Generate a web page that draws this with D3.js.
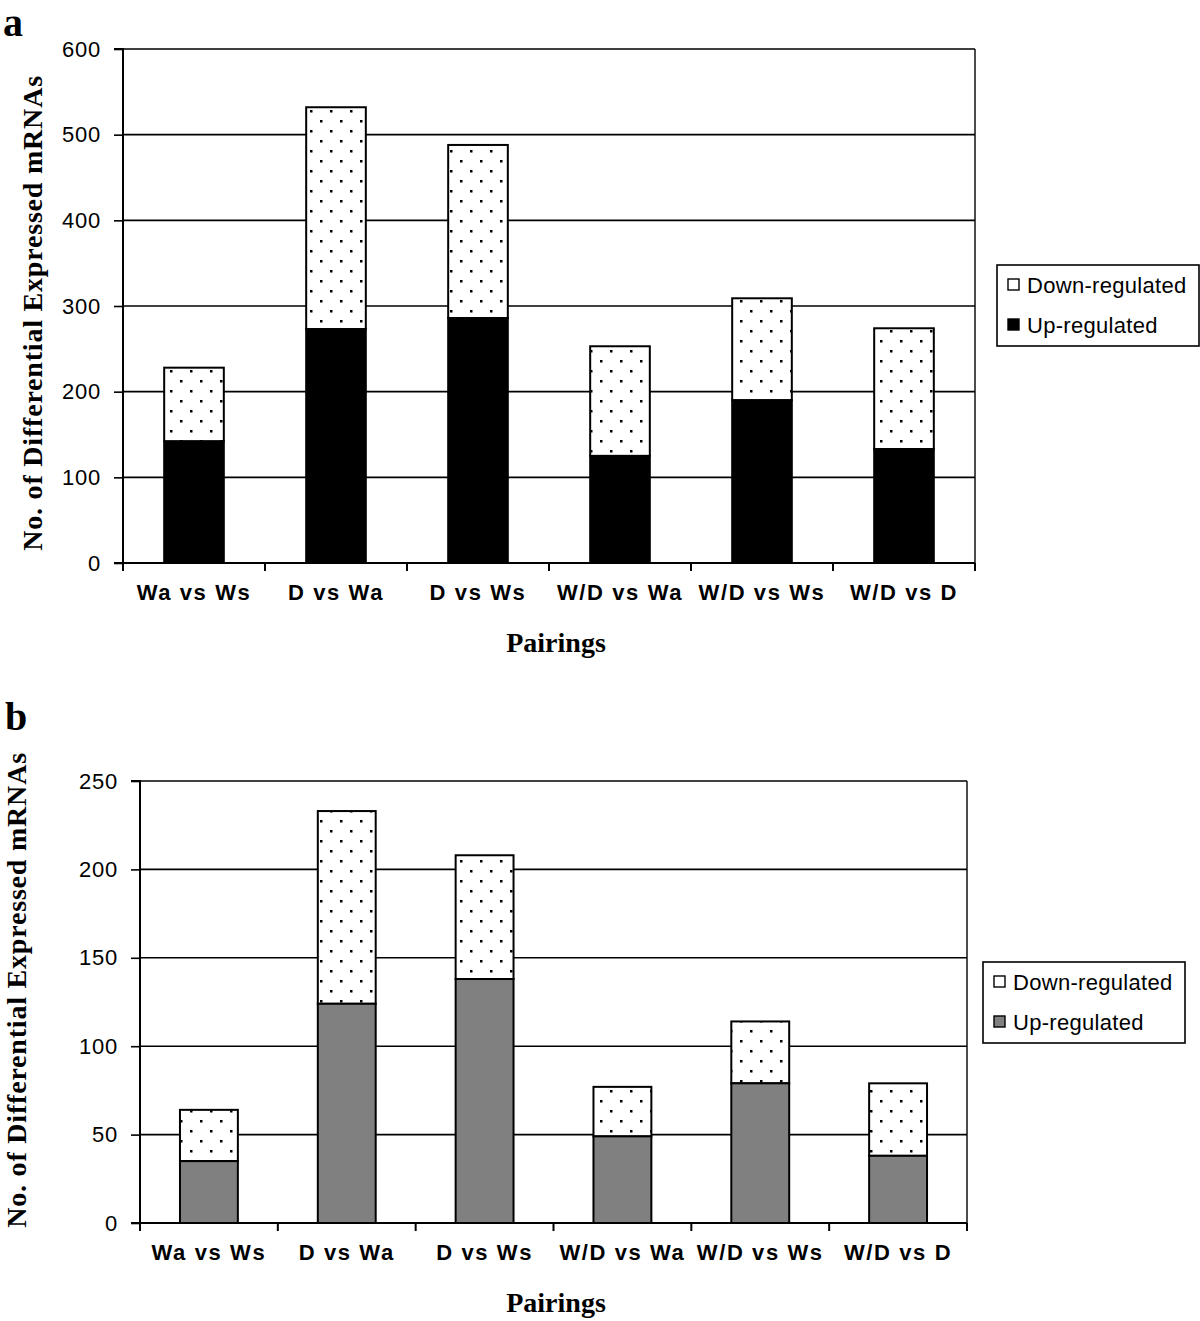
<!DOCTYPE html>
<html><head><meta charset="utf-8">
<script src="https://cdn.jsdelivr.net/npm/d3@7"></script>
<style>body{margin:0;background:#fff}</style>
</head><body>
<svg id="c" width="1200" height="1321"></svg>
<script>
const categories = ["Wa vs Ws","D vs Wa","D vs Ws","W/D vs Wa","W/D vs Ws","W/D vs D"];
const upA = [142,273,286,125,190,133];
const totalA = [228,532,488,253,309,274];
const upB = [35,124,138,49,79,38];
const totalB = [64,233,208,77,114,79];
const ticksA = [0,100,200,300,400,500,600];
const ticksB = [0,50,100,150,200,250];
const seriesNames = ["Down-regulated","Up-regulated"];

const svg = d3.select("#c");
const defs = svg.append("defs");
const pat = defs.append("pattern").attr("id","dots").attr("patternUnits","userSpaceOnUse")
  .attr("width",20).attr("height",20);
pat.append("rect").attr("width",20).attr("height",20).attr("fill","#fff");
pat.append("rect").attr("x",0).attr("y",0).attr("width",2.5).attr("height",2.5).attr("fill","#000");
pat.append("rect").attr("x",10).attr("y",10).attr("width",2.5).attr("height",2.5).attr("fill","#000");

const SANS = "Liberation Sans, Arial, Helvetica, sans-serif";
const SERIF = "Liberation Serif, Times New Roman, serif";

function panel(o){
  const g = svg.append("g");
  const x = d3.scaleBand().domain(categories).range([o.left,o.right]).paddingInner(0.58).paddingOuter(0.29);
  const xt = d3.scaleBand().domain(categories).range([o.left,o.right]);
  const y = d3.scaleLinear().domain([0,o.max]).range([o.bottom,o.top]);
  g.selectAll(".grid").data(o.ticks.slice(1)).join("line")
    .attr("x1",o.left).attr("x2",o.right).attr("y1",d=>y(d)).attr("y2",d=>y(d))
    .attr("stroke","#000").attr("stroke-width",1.6);
  g.append("line").attr("x1",o.right).attr("x2",o.right).attr("y1",o.top).attr("y2",o.bottom)
    .attr("stroke","#000").attr("stroke-width",1.4);
  categories.forEach((c,i)=>{
    g.append("rect").attr("x",x(c)).attr("width",x.bandwidth())
      .attr("y",y(o.total[i])).attr("height",y(o.up[i])-y(o.total[i]))
      .attr("fill","url(#dots)").attr("stroke","#000").attr("stroke-width",2);
    g.append("rect").attr("x",x(c)).attr("width",x.bandwidth())
      .attr("y",y(o.up[i])).attr("height",y(0)-y(o.up[i]))
      .attr("fill",o.upColor).attr("stroke","#000").attr("stroke-width",2);
  });
  const ya = d3.axisLeft(y).tickValues(o.ticks).tickSize(9).tickPadding(13);
  const yg = g.append("g").attr("transform",`translate(${o.left},0)`).call(ya);
  yg.select(".domain").attr("stroke","#000").attr("stroke-width",2).attr("d",`M-9,${o.top}H0V${o.bottom}`);
  yg.selectAll(".tick line").attr("stroke","#000").attr("stroke-width",1.6);
  yg.selectAll("text").attr("font-family",SANS).attr("font-size",22).attr("letter-spacing","0.8").attr("fill","#000");
  const xa = d3.axisBottom(xt).tickSize(0).tickPadding(21);
  const xg = g.append("g").attr("transform",`translate(0,${o.bottom})`).call(xa);
  xg.select(".domain").attr("stroke","#000").attr("stroke-width",2).attr("d",`M${o.left-9},0H${o.right}`);
  xg.selectAll("text").attr("font-family",SANS).attr("font-size",22)
    .attr("font-weight","bold").attr("fill","#000").attr("letter-spacing","1.6");
  const bounds = d3.range(7).map(i=>o.left + i*(o.right-o.left)/6);
  g.selectAll(".xt").data(bounds).join("line").attr("x1",d=>d).attr("x2",d=>d)
    .attr("y1",o.bottom).attr("y2",o.bottom+8).attr("stroke","#000").attr("stroke-width",2);
  g.append("text").attr("transform",`translate(${o.ytx},${o.ytc}) rotate(-90)`)
    .attr("text-anchor","middle").attr("font-family",SERIF)
    .attr("font-weight","bold").attr("font-size",28).attr("letter-spacing","0.8").text("No. of Differential Expressed mRNAs");
  g.append("text").attr("x",556).attr("y",o.bottom+89).attr("text-anchor","middle")
    .attr("font-family",SERIF).attr("font-weight","bold")
    .attr("font-size",28).text("Pairings");
  g.append("text").attr("x",o.lx).attr("y",o.ly).attr("font-family",SERIF)
    .attr("font-weight","bold").attr("font-size",40).text(o.letter);
  const L = g.append("g").attr("transform",`translate(${o.legX},${o.legY})`);
  L.append("rect").attr("width",202).attr("height",81).attr("fill","#fff").attr("stroke","#000").attr("stroke-width",1.6);
  const fills = ["#fff",o.upColor];
  seriesNames.forEach((s,i)=>{
    L.append("rect").attr("x",11).attr("y",14+i*40).attr("width",11).attr("height",11)
      .attr("fill",fills[i]).attr("stroke","#000").attr("stroke-width",1.4);
    L.append("text").attr("x",30).attr("y",28+i*40).attr("font-family",SANS)
      .attr("font-size",22).attr("letter-spacing","0.3").text(s);
  });
}

panel({left:123,right:975,top:49,bottom:563,max:600,ticks:ticksA,up:upA,total:totalA,upColor:"#000",
  ytx:42,ytc:313,letter:"a",lx:3,ly:36,legX:997,legY:265});
panel({left:140,right:967,top:781,bottom:1223,max:250,ticks:ticksB,up:upB,total:totalB,upColor:"#808080",
  ytx:26,ytc:990,letter:"b",lx:5,ly:730,legX:983,legY:962});
</script>
</body></html>
